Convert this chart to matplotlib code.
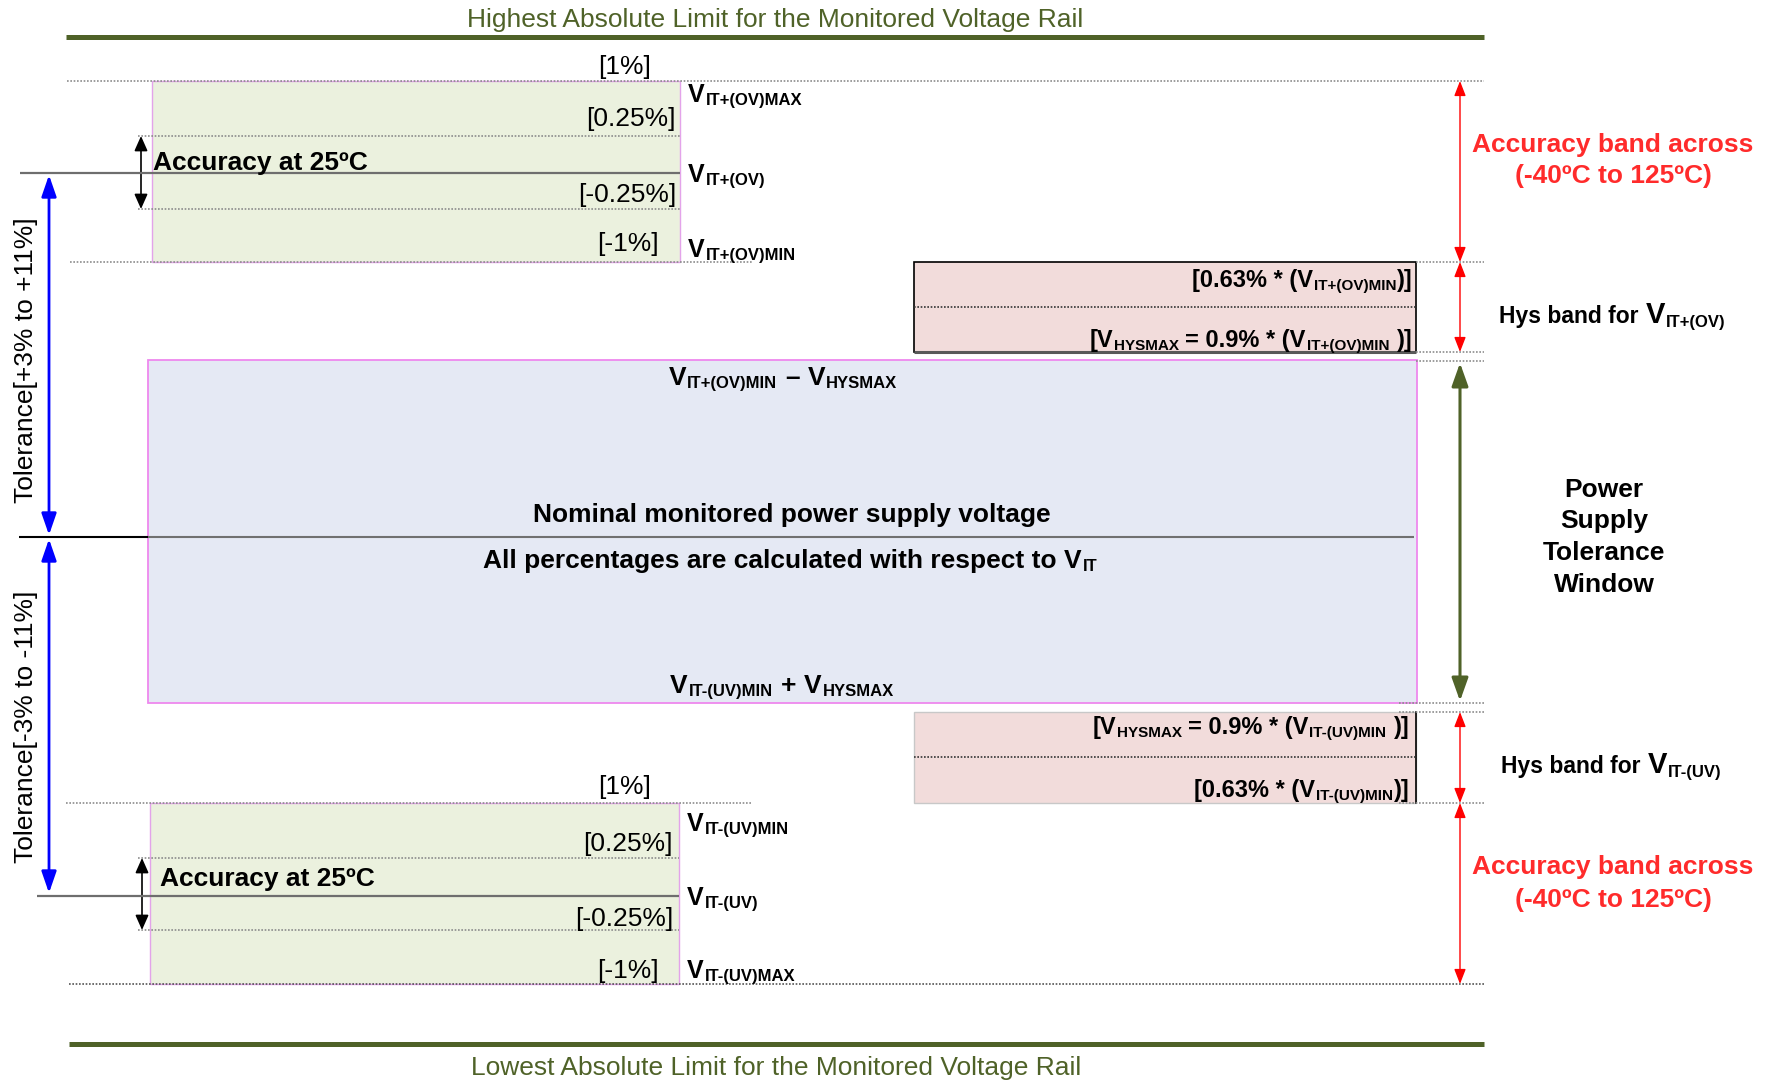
import matplotlib
matplotlib.use('Agg')
import matplotlib.pyplot as plt
from matplotlib.patches import Rectangle, FancyArrowPatch

plt.rcParams['font.family'] = ['Liberation Sans', 'DejaVu Sans']

# diagram text
top_title = 'Highest Absolute Limit for the Monitored Voltage Rail'
bottom_title = 'Lowest Absolute Limit for the Monitored Voltage Rail'
ov_pct = ['[1%]', '[0.25%]', '[-0.25%]', '[-1%]']
uv_pct = ['[1%]', '[0.25%]', '[-0.25%]', '[-1%]']
ov_subs = ['IT+(OV)MAX', 'IT+(OV)', 'IT+(OV)MIN']
uv_subs = ['IT-(UV)MIN', 'IT-(UV)', 'IT-(UV)MAX']
tol_labels = ['Tolerance[+3% to +11%]', 'Tolerance[-3% to -11%]']
acc_label = 'Accuracy at 25ºC'
band_label = ['Accuracy band across', '(-40ºC to 125ºC)']
window_label = ['Power', 'Supply', 'Tolerance', 'Window']

# pixel layout of the levels (y, top to bottom)
y_ov = [81, 136, 173, 209, 262]
y_hys_ov = [262, 307, 352]
y_win = [361, 537, 703]
y_hys_uv = [712, 757, 803]
y_uv = [803, 858, 896, 930, 984]

W, H = 1774, 1081
OLIVE = '#4F6228'
GREEN = '#EBF1DE'
BLUE = '#E5E9F4'
PINK = '#F2DCDB'
VIOLET = '#E3A3EA'
RED = '#FF2B2B'

fig = plt.figure(figsize=(W / 100, H / 100), dpi=100)
ax = fig.add_axes([0, 0, 1, 1])
ax.set_xlim(0, W)
ax.set_ylim(H, 0)
ax.axis('off')
renderer = fig.canvas.get_renderer()


def rich(x, y, segs, ha='left', color='black', weight='bold'):
    # segs: (text, size, dy, gap before)
    parts = []
    total = 0
    for s, fs, dy, gap in segs:
        t = ax.text(0, y + dy, s, fontsize=fs, color=color, fontweight=weight,
                    va='baseline', ha='left')
        w = t.get_window_extent(renderer).width
        parts.append((t, gap, w))
        total += gap + w
    x0 = x - total if ha == 'right' else (x - total / 2 if ha == 'center' else x)
    for t, gap, w in parts:
        x0 += gap
        t.set_x(x0)
        x0 += w


def hline(x0, x1, y, color='#8C8C8C', lw=1.2, ls=(0, (1, 1))):
    ax.plot([x0, x1], [y, y], color=color, lw=lw, ls=ls, solid_capstyle='butt')


def arrow(x, y0, y1, color, lw, hl, hw):
    ax.add_patch(FancyArrowPatch((x, y0), (x, y1),
                                 arrowstyle=f'<|-|>,head_length={hl},head_width={hw}',
                                 mutation_scale=1, color=color, lw=lw,
                                 shrinkA=0, shrinkB=0))


# absolute limits
ax.plot([66, 1484], [37, 37], color=OLIVE, lw=3.6, solid_capstyle='butt')
ax.text(775, 27, top_title, fontsize=19, color=OLIVE, ha='center', va='baseline')
ax.plot([69, 1484], [1044, 1044], color=OLIVE, lw=3.6, solid_capstyle='butt')
ax.text(776, 1075, bottom_title, fontsize=19, color=OLIVE, ha='center', va='baseline')

# OV accuracy box
ax.add_patch(Rectangle((152, y_ov[0]), 528, y_ov[4] - y_ov[0], fc=GREEN, ec=VIOLET, lw=1))
hline(67, 1484, y_ov[0])
hline(138, 680, y_ov[1])
hline(20, 680, y_ov[2], color='#6E6E6E', lw=1.6, ls='-')
hline(138, 680, y_ov[3])
hline(70, 752, y_ov[4])
hline(1416, 1484, y_ov[4])
for txt, xx, yy, ha in zip(ov_pct, [625, 676, 676, 659], [74, 126, 202, 251],
                           ['center', 'right', 'right', 'right']):
    ax.text(xx, yy, txt, fontsize=19, ha=ha, va='baseline')
ax.text(153, 170, acc_label, fontsize=19, fontweight='bold', va='baseline')
arrow(141, y_ov[1], y_ov[3], 'black', 1.2, 9, 4)
for sub, yy in zip(ov_subs, [102, 182, 257]):
    rich(688, yy, [('V', 18, 0, 0), (sub, 12, 3, 1)])

# OV hysteresis box
ax.add_patch(Rectangle((914, y_hys_ov[0]), 502, y_hys_ov[2] - y_hys_ov[0],
                       fc=PINK, ec='black', lw=1.2))
hline(914, 1416, y_hys_ov[2], color='#595959', lw=2.2, ls='-')
hline(914, 1416, y_hys_ov[1], color='#333333', lw=1.2)
hline(1416, 1484, y_hys_ov[2])
rich(1413, 287, [('[0.63% * (V', 17, 0, 0), ('IT+(OV)MIN', 11, 3, 1), (')]', 17, 0, 1)], ha='right')
rich(1413, 347, [('[V', 17, 0, 0), ('HYSMAX', 11, 3, 1), ('= 0.9% * (V', 17, 0, 6),
                 ('IT+(OV)MIN', 11, 3, 1), (')]', 17, 0, 8)], ha='right')

# tolerance window box
ax.add_patch(Rectangle((148, y_win[0] - 1), 1269, y_win[2] - y_win[0] + 1,
                       fc=BLUE, ec='#EE88EE', lw=1.3))
hline(19, 148, y_win[1], color='black', lw=1.5, ls='-')
hline(148, 1414, y_win[1], color='#707070', lw=1.5, ls='-')
hline(1416, 1484, y_win[0])
hline(1399, 1484, y_win[2])
rich(783, 385, [('V', 19, 0, 0), ('IT+(OV)MIN', 12, 3, 1), ('–', 19, 0, 8),
                ('V', 19, 0, 8), ('HYSMAX', 12, 3, 1)], ha='center')
ax.text(792, 522, 'Nominal monitored power supply voltage', fontsize=19,
        fontweight='bold', ha='center', va='baseline')
rich(790, 568, [('All percentages are calculated with respect to V', 19, 0, 0),
                ('IT', 12, 3, 1)], ha='center')
rich(782, 693, [('V', 19, 0, 0), ('IT-(UV)MIN', 12, 3, 1), ('+', 19, 0, 8),
                ('V', 19, 0, 8), ('HYSMAX', 12, 3, 1)], ha='center')

# UV hysteresis box
ax.add_patch(Rectangle((914, y_hys_uv[0]), 502, y_hys_uv[2] - y_hys_uv[0],
                       fc=PINK, ec='#C8C8C8', lw=1))
ax.plot([1416, 1416], [y_hys_uv[0], y_hys_uv[2]], color='black', lw=1.2)
hline(914, 1416, y_hys_uv[1], color='#333333', lw=1.2)
hline(1399, 1484, y_hys_uv[0])
rich(1410, 734, [('[V', 17, 0, 0), ('HYSMAX', 11, 3, 1), ('= 0.9% * (V', 17, 0, 6),
                 ('IT-(UV)MIN', 11, 3, 1), (')]', 17, 0, 8)], ha='right')
rich(1410, 797, [('[0.63% * (V', 17, 0, 0), ('IT-(UV)MIN', 11, 3, 1), (')]', 17, 0, 1)], ha='right')

# UV accuracy box
ax.add_patch(Rectangle((150, y_uv[0]), 529, y_uv[4] - y_uv[0], fc=GREEN, ec=VIOLET, lw=1))
hline(66, 752, y_uv[0])
hline(1399, 1484, y_uv[0])
hline(138, 679, y_uv[1])
hline(37, 679, y_uv[2], color='#6E6E6E', lw=1.6, ls='-')
hline(138, 679, y_uv[3])
hline(69, 1484, y_uv[4], color='#555555', lw=1.2)
for txt, xx, yy, ha in zip(uv_pct, [625, 673, 673, 659], [794, 851, 926, 978],
                           ['center', 'right', 'right', 'right']):
    ax.text(xx, yy, txt, fontsize=19, ha=ha, va='baseline')
ax.text(160, 886, acc_label, fontsize=19, fontweight='bold', va='baseline')
arrow(142, y_uv[1], y_uv[3], 'black', 1.2, 9, 4)
for sub, yy in zip(uv_subs, [831, 905, 978]):
    rich(687, yy, [('V', 18, 0, 0), (sub, 12, 3, 1)])

# tolerance arrows on the left
arrow(49, 175, 535, 'blue', 2.0, 13, 4.5)
arrow(49, 539, 893, 'blue', 2.0, 13, 4.5)
ax.text(26, 360, tol_labels[0], fontsize=19, rotation=90, ha='center', va='center')
ax.text(26, 727, tol_labels[1], fontsize=19, rotation=90, ha='center', va='center')

# right side arrows and labels
arrow(1460, y_ov[0], y_hys_ov[0], 'red', 1.0, 9, 3.5)
arrow(1460, y_hys_ov[0], y_hys_ov[2], 'red', 1.0, 9, 3.5)
arrow(1460, y_hys_uv[0], y_hys_uv[2], 'red', 1.0, 9, 3.5)
arrow(1460, y_uv[0], y_uv[4], 'red', 1.0, 9, 3.5)
arrow(1460, 363, 701, OLIVE, 2.2, 14, 5)

for line, yy in zip(band_label, [152, 183]):
    ax.text(1613, yy, line, fontsize=19, fontweight='bold', color=RED, ha='center', va='baseline')
for line, yy in zip(band_label, [874, 907]):
    ax.text(1613, yy, line, fontsize=19, fontweight='bold', color=RED, ha='center', va='baseline')
for line, yy in zip(window_label, [497, 528, 560, 592]):
    ax.text(1604, yy, line, fontsize=19, fontweight='bold', ha='center', va='baseline')

rich(1499, 323, [('Hys band for', 16.5, 0, 0), ('V', 21, 0, 7), ('IT+(OV)', 12, 4, 1)])
rich(1501, 773, [('Hys band for', 16.5, 0, 0), ('V', 21, 0, 7), ('IT-(UV)', 12, 4, 1)])

fig.savefig('out.png', dpi=100)
